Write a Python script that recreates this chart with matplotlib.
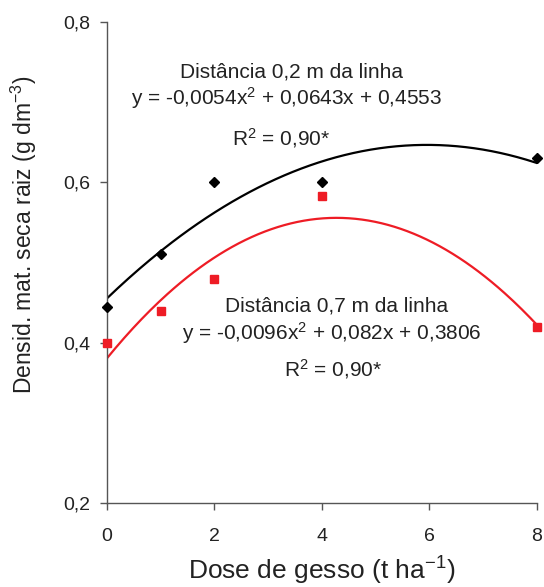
import numpy as np
import matplotlib
matplotlib.use("Agg")
import matplotlib.pyplot as plt

plt.rcParams['font.family'] = ['Liberation Sans', 'DejaVu Sans']
plt.rcParams['mathtext.fontset'] = 'custom'
plt.rcParams['mathtext.rm'] = 'Liberation Sans'
plt.rcParams['mathtext.it'] = 'Liberation Sans:italic'

# Observed data
doses = [0, 1, 2, 4, 8]
dens_02 = [0.445, 0.51, 0.60, 0.60, 0.63]
dens_07 = [0.40, 0.44, 0.48, 0.583, 0.42]

# Fitted quadratic coefficients (a, b, c) for y = a x^2 + b x + c
coef_02 = [-0.0054, 0.0643, 0.4553]
coef_07 = [-0.0096, 0.082, 0.3806]

x_ticks = [0, 2, 4, 6, 8]
y_ticks = [0.2, 0.4, 0.6, 0.8]

TXT = '#222222'
RED = '#ee1c25'

fig = plt.figure(figsize=(5.44, 5.87), dpi=100)
ax = fig.add_axes([0.1967, 0.1431, 0.7903, 0.8194])

xs = np.linspace(0, 8, 200)
ax.plot(xs, np.polyval(coef_02, xs), color='black', lw=1.6, zorder=2)
ax.plot(xs, np.polyval(coef_07, xs), color=RED, lw=1.6, zorder=2)
ax.plot(doses, dens_02, linestyle='none', marker='D', ms=5.5, color='black',
        clip_on=False, zorder=3)
ax.plot(doses, dens_07, linestyle='none', marker='s', ms=6, color=RED,
        clip_on=False, zorder=3)

ax.set_xlim(0, 8)
ax.set_ylim(0.2, 0.8)
ax.set_xticks(x_ticks)
ax.set_yticks(y_ticks)
ax.set_xticklabels([str(t) for t in x_ticks])
ax.set_yticklabels([f"{t:.1f}".replace('.', ',') for t in y_ticks])
ax.tick_params(direction='out', length=5, width=1, color='#555555',
               labelsize=14, labelcolor=TXT)
ax.tick_params(axis='x', pad=13)
ax.tick_params(axis='y', pad=7)
for s in ['top', 'right']:
    ax.spines[s].set_visible(False)
for s in ['left', 'bottom']:
    ax.spines[s].set_color('#555555')
    ax.spines[s].set_linewidth(1.0)

ax.set_xlabel(r'Dose de gesso (t ha$^{-1}$)', fontsize=19, color=TXT)
ax.xaxis.set_label_coords(0.499, -0.108)
ax.set_ylabel(r'Densid. mat. seca raiz (g dm$^{-3}$)', fontsize=16.5, color=TXT)
ax.yaxis.set_label_coords(-0.158, 0.557)

tk = dict(fontsize=15, color=TXT, ha='center', va='baseline')
ax.text(3.44, 0.7314, 'Distância 0,2 m da linha', **tk)
ax.text(3.35, 0.6965, r'y = -0,0054x$^2$ + 0,0643x + 0,4553', **tk)
ax.text(3.24, 0.6466, r'R$^2$ = 0,90*', **tk)

ax.text(4.28, 0.4386, 'Distância 0,7 m da linha', **tk)
ax.text(4.19, 0.4033, r'y = -0,0096x$^2$ + 0,082x + 0,3806', **tk)
ax.text(4.20, 0.3576, r'R$^2$ = 0,90*', **tk)

fig.savefig('out.png', dpi=100)
